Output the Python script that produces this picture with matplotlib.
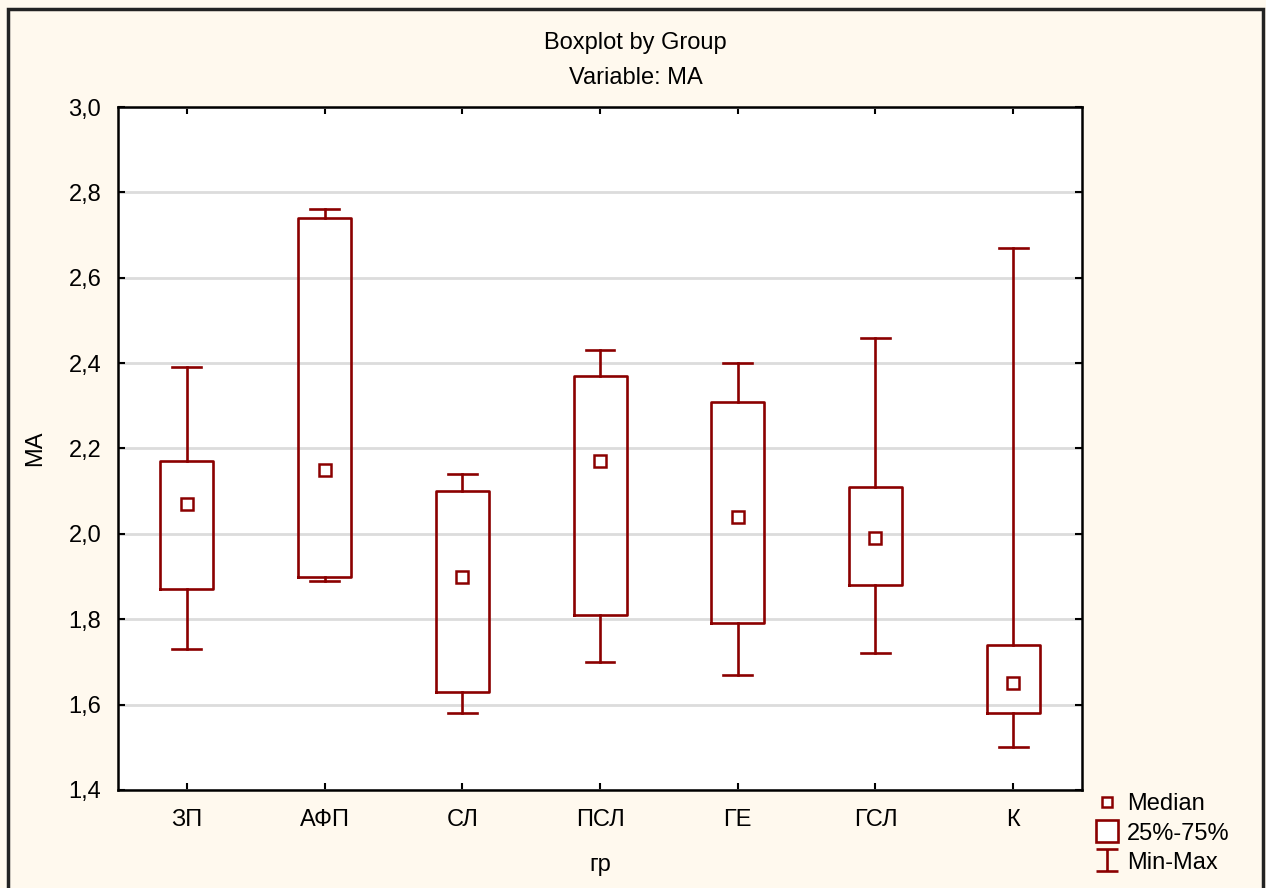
import matplotlib.pyplot as plt
from matplotlib.lines import Line2D
from matplotlib.path import Path
from matplotlib.patches import Rectangle

plt.rcParams['font.family'] = ['Liberation Sans', 'DejaVu Sans']

groups = ['ЗП', 'АФП', 'СЛ', 'ПСЛ', 'ГЕ', 'ГСЛ', 'К']
mins = [1.73, 1.89, 1.58, 1.70, 1.67, 1.72, 1.50]
q1 = [1.87, 1.90, 1.63, 1.81, 1.79, 1.88, 1.58]
medians = [2.07, 2.15, 1.90, 2.17, 2.04, 1.99, 1.65]
q3 = [2.17, 2.74, 2.10, 2.37, 2.31, 2.11, 1.74]
maxs = [2.39, 2.76, 2.14, 2.43, 2.40, 2.46, 2.67]

yticks = [1.4, 1.6, 1.8, 2.0, 2.2, 2.4, 2.6, 2.8, 3.0]
ytick_labels = ['1,4', '1,6', '1,8', '2,0', '2,2', '2,4', '2,6', '2,8', '3,0']

red = '#8B0000'
bg = '#FFF9EE'
fs = 17

fig = plt.figure(figsize=(12.66, 8.88), dpi=100, facecolor=bg)
ax = fig.add_axes([0.0932, 0.1104, 0.7615, 0.7691])
ax.set_facecolor('white')

stats = []
for i, g in enumerate(groups):
    stats.append(dict(label=g, whislo=mins[i], q1=q1[i], med=medians[i],
                      q3=q3[i], whishi=maxs[i], mean=medians[i], fliers=[]))

line_kw = dict(color=red, linewidth=1.9)
ax.bxp(stats, positions=range(len(groups)), widths=0.385,
       showmeans=True, meanline=False,
       boxprops=line_kw, whiskerprops=line_kw,
       capprops=line_kw, capwidths=0.21,
       medianprops=dict(linewidth=0),
       meanprops=dict(marker='s', markersize=8.5, markerfacecolor='white',
                      markeredgecolor=red, markeredgewidth=1.8),
       zorder=3)

ax.set_xlim(-0.5, len(groups) - 0.5)
ax.set_ylim(1.4, 3.0)
ax.set_yticks(yticks)
ax.set_yticklabels(ytick_labels)
ax.set_xticks(range(len(groups)))
ax.set_xticklabels(groups)
ax.tick_params(direction='in', length=5, width=1.5, labelsize=fs,
               top=True, right=True)
ax.tick_params(axis='x', pad=14)
ax.tick_params(axis='y', pad=12)
ax.grid(axis='y', color='#DCDCDC', linewidth=2, zorder=0)
ax.set_axisbelow(True)
for s in ax.spines.values():
    s.set_linewidth(1.8)

ax.set_xlabel('гр', fontsize=fs, labelpad=16)
ax.set_ylabel('MA', fontsize=fs, labelpad=16)
fig.text(0.502, 1 - 43 / 888, 'Boxplot by Group', fontsize=fs,
         ha='center', va='center')
fig.text(0.502, 1 - 78 / 888, 'Variable: MA', fontsize=fs,
         ha='center', va='center')

# I-shaped marker for the min-max legend entry
ibeam = Path([(-1, 1), (1, 1), (0, 1), (0, -1), (-1, -1), (1, -1)],
             [Path.MOVETO, Path.LINETO, Path.MOVETO, Path.LINETO,
              Path.MOVETO, Path.LINETO])
handles = [
    Line2D([], [], linestyle='none', marker='s', markersize=7,
           markerfacecolor='white', markeredgecolor=red, markeredgewidth=1.8),
    Line2D([], [], linestyle='none', marker='s', markersize=16,
           markerfacecolor='white', markeredgecolor=red, markeredgewidth=1.9),
    Line2D([], [], linestyle='none', marker=ibeam, markersize=16,
           markeredgecolor=red, markeredgewidth=1.9),
]
fig.legend(handles, ['Median', '25%-75%', 'Min-Max'],
           loc='upper left', bbox_to_anchor=(1086 / 1266, 1 - 784 / 888),
           frameon=False, fontsize=fs, handlelength=1.0, handletextpad=0.35,
           labelspacing=0.3, borderaxespad=0)

fig.patches.append(Rectangle((0.0063, -0.02), 0.9917, 1.0099,
                             transform=fig.transFigure, fill=False,
                             edgecolor='#222222', linewidth=2.5))

fig.savefig('out.png', dpi=100, facecolor=bg)
